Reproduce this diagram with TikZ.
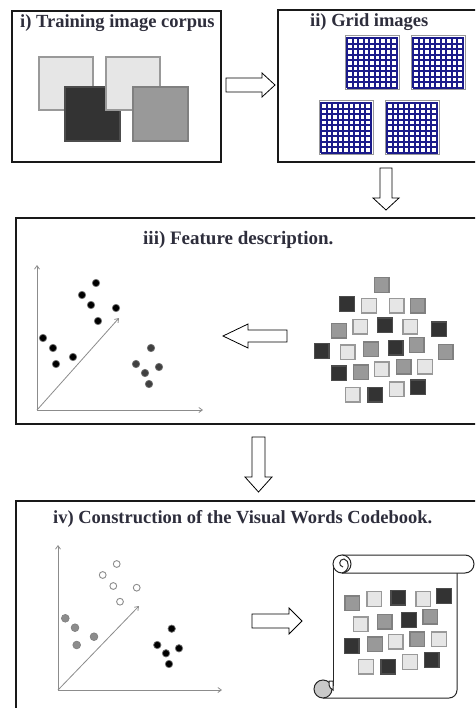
\documentclass[tikz,border=0pt]{standalone}
\usepackage{fontspec}
\setmainfont{Liberation Serif}
\usetikzlibrary{arrows.meta}

\definecolor{titlecol}{HTML}{2E2E3C}
\definecolor{lightsq}{HTML}{E6E6E6}
\definecolor{midsq}{HTML}{999999}
\definecolor{darksq}{HTML}{333333}
\definecolor{gridblue}{HTML}{1A1A8A}
\definecolor{axisgray}{HTML}{8C8C8C}
\definecolor{curlgray}{HTML}{C8C8C8}

\tikzset{
  panel/.style={draw=black!90, line width=1.1pt, fill=white, inner sep=0pt},
  title/.style={font=\bfseries\fontsize{18.5}{20}\selectfont, text=titlecol, anchor=base west, inner sep=0pt},
  blockarrow/.style={draw=black, line width=0.8pt, fill=white, line join=miter},
  axisline/.style={draw=axisgray, line width=0.8pt, -{Straight Barb[length=3.5pt,width=5pt]}},
  sqL/.style={fill=lightsq, draw=black!40, line width=1.2pt},
  sqM/.style={fill=midsq, draw=black!50, line width=1.2pt},
  sqD/.style={fill=darksq, draw=black!70, line width=1.2pt},
  dotK/.style={fill=black, draw=black!55, line width=0.7pt},
  dotG/.style={fill=black!75, draw=black!55, line width=0.7pt},
  dotM/.style={fill=black!45, draw=black!50, line width=0.6pt},
  dotO/.style={fill=white, draw=black!45, line width=0.9pt},
  scrollline/.style={draw=black!85, line width=1pt},
}

\begin{document}
\begin{tikzpicture}[x=1pt,y=-1pt]
\clip (0,0) rectangle (475,708);
\fill[white] (0,0) rectangle (475,708);

% ---------- panels ----------
\node[panel, minimum width=209pt, minimum height=151pt] (p1) at (116.5,86.5) {};
\node[panel, minimum width=212pt, minimum height=152pt] (p2) at (384,86) {};
\node[panel, minimum width=474pt, minimum height=206pt] (p3) at (253,321) {};
\node[panel, minimum width=474pt, minimum height=220pt] (p4) at (253,611) {};

% ---------- titles ----------
\node[title] (t1) at (20,28) {i) Training image corpus};
\node[title] (t2) at (310,27) {ii) Grid images};
\node[title, font=\bfseries\fontsize{19}{20}\selectfont] (t3) at (143,244) {iii) Feature description.};
\node[title] (t4) at (53,523) {iv) Construction of the Visual Words Codebook.};

% ---------- i) image corpus ----------
\draw[sqL] (39,57) rectangle (93,110);
\draw[sqD] (65,87) rectangle (120,141);
\draw[sqL] (106,57) rectangle (160,110);
\draw[sqM] (133,87) rectangle (188,141);

% ---------- ii) grid images ----------
\foreach \gx/\gy in {345/36, 411/36, 319/101, 385/101}{
  \fill[white] (\gx,\gy) rectangle ++(54,54);
  \foreach \k in {0,...,9}{
    \draw[gridblue, line width=1.6pt] (\gx+2.2+5.51*\k,\gy+1.5) -- (\gx+2.2+5.51*\k,\gy+52.5);
    \draw[gridblue, line width=1.6pt] (\gx+1.5,\gy+2.2+5.51*\k) -- (\gx+52.5,\gy+2.2+5.51*\k);
  }
  \draw[black!40, line width=1pt] (\gx,\gy) rectangle ++(54,54);
}

% ---------- block arrows ----------
\draw[blockarrow] (226,78) -- (262,78) -- (262,73) -- (275,85) -- (262,97) -- (262,92) -- (226,92) -- cycle;
\draw[blockarrow] (380,168) -- (392,168) -- (392,198) -- (399,198) -- (386,210) -- (373,198) -- (380,198) -- cycle;
\draw[blockarrow] (287,330) -- (248,330) -- (248,324) -- (223,336) -- (248,348) -- (248,342) -- (287,342) -- cycle;
\draw[blockarrow] (252,437) -- (265,437) -- (265,477) -- (272,477) -- (258.5,492) -- (245,477) -- (252,477) -- cycle;
\draw[blockarrow] (252,614) -- (289,614) -- (289,608) -- (302,621) -- (289,634) -- (289,628) -- (252,628) -- cycle;

% ---------- iii) feature space ----------
\coordinate (o3) at (37,410);
\coordinate (y3) at (37,265);
\coordinate (x3) at (203,410);
\coordinate (d3) at (119,318);
\draw[axisline] (o3) -- (y3);
\draw[axisline] (o3) -- (x3);
\draw[axisline] (o3) -- (d3);
\foreach \x/\y in {96/283, 82/295, 91/305, 116/308, 98/321, 43/338, 53/348, 56/364, 73/357}
  \path[dotK] (\x,\y) circle (3.7);
\foreach \x/\y in {151/348, 136/364, 159/367, 145/373, 149/384}
  \path[dotG] (\x,\y) circle (3.7);

% descriptor patches
\foreach \x/\y/\s in {
  381.7/285/M,
  347/304/D, 369/305.7/L, 396.7/305.7/L, 417.7/305.7/M,
  339/330.7/M, 360.3/326.7/L, 385/325.3/D, 410.3/326.7/L, 439/329.3/D,
  321.7/351/D, 347.7/352.3/L, 371/349.3/M, 395.7/347.7/D, 416.7/345/M, 445.7/352/M,
  339/373.3/D, 361/372.3/M, 381.7/369.3/L, 403.7/366.7/M, 425/366.7/L,
  352.7/394.7/L, 375.3/394.7/D, 396.7/389.3/L, 418/387.3/D}
  \draw[sq\s] (\x-7.3,\y-7.3) rectangle ++(14.6,14.6);

% ---------- iv) codebook space ----------
\coordinate (o4) at (58,690);
\coordinate (y4) at (58,545);
\coordinate (x4) at (222,690);
\coordinate (d4) at (139,606);
\draw[axisline] (o4) -- (y4);
\draw[axisline] (o4) -- (x4);
\draw[axisline] (o4) -- (d4);
\foreach \x/\y in {116.7/564, 102.7/575, 113.3/586, 136.7/587.7, 120/601.7}
  \path[dotO] (\x,\y) circle (3.4);
\foreach \x/\y in {65.3/618.3, 75/627.7, 76.7/645, 94/636.7}
  \path[dotM] (\x,\y) circle (3.9);
\foreach \x/\y in {171.7/628.7, 157.3/645, 179/648.3, 166/653.3, 169/664}
  \path[dotK] (\x,\y) circle (3.7);

% ---------- scroll (codebook) ----------
\draw[scrollline, rounded corners=8pt] (457,573) -- (457,698) -- (323,698);
\draw[scrollline] (333,564) -- (333,686);
\draw[scrollline, fill=white, rounded corners=9pt] (342,555) -- (474,555) -- (474,573) -- (342,573);
\draw[scrollline, fill=white] (342,564) circle (9);
\draw[scrollline] (342,573) .. controls (350,571) and (350,560) .. (344,559)
                  .. controls (339,559) and (338,566) .. (343,567);
\draw[scrollline, fill=curlgray] (323,689) circle (9);
\draw[scrollline, fill=white] (329,681) -- (333,681) -- (333,690)
      .. controls (331,689) and (329,687) .. (329,685) -- cycle;

\foreach \x/\y/\s in {
  352.3/603.3/M, 374.3/599/L, 398.3/597.7/D, 423.3/599/L, 444/596/D,
  360.7/624.3/L, 384.7/621.7/M, 409/620/D, 430.3/616.7/M,
  351.7/646/D, 375/644.3/M, 395.7/641.7/L, 417.3/639.3/M, 439/639.3/L,
  366/666.7/L, 388.3/666.7/D, 410/662/L, 431.7/660/D}
  \draw[sq\s] (\x-7.3,\y-7.3) rectangle ++(14.6,14.6);

\end{tikzpicture}
\end{document}
